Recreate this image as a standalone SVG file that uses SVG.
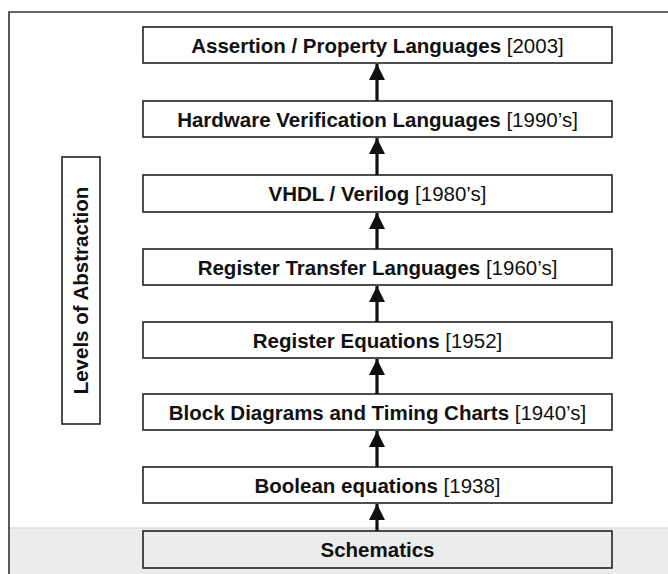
<svg xmlns="http://www.w3.org/2000/svg" width="668" height="574" viewBox="0 0 668 574">
<defs>
<style>
.box{fill:#fff;stroke:#222;stroke-width:1.6}
.gbox{fill:#ececec;stroke:#222;stroke-width:1.6}
.t{font-family:"Liberation Sans",Arial,sans-serif;font-size:20.5px;fill:#111;text-anchor:middle}
.b{font-weight:bold}
.c line{stroke:#111;stroke-width:3.2}
</style>
<marker id="ah" markerWidth="5" markerHeight="5" refX="5" refY="2.5" orient="auto" markerUnits="strokeWidth">
<path d="M0,0 L5,2.5 L0,5 Z" fill="#111"/>
</marker>
</defs>
<rect x="0" y="0" width="668" height="574" fill="#fff"/>
<rect x="9" y="528" width="659" height="46" fill="#ececec"/>
<line x1="9" y1="528" x2="668" y2="528" stroke="#d0d0d0" stroke-width="1"/>
<path d="M668,12 H9 V574" fill="none" stroke="#333" stroke-width="1.6"/>

<g id="levels">
<rect x="62" y="157" width="38" height="267" class="box"/>
<text class="t b" transform="translate(88,290.5) rotate(-90)">Levels of Abstraction</text>
</g>

<g id="assertion">
<rect x="143" y="27" width="469" height="36" class="box"/>
<text class="t" x="377.5" y="52.5"><tspan class="b">Assertion / Property Languages</tspan> [2003]</text>
</g>
<g id="hvl">
<rect x="143" y="101" width="469" height="36" class="box"/>
<text class="t" x="377.5" y="126.5"><tspan class="b">Hardware Verification Languages</tspan> [1990’s]</text>
</g>
<g id="vhdl">
<rect x="143" y="175" width="469" height="37" class="box"/>
<text class="t" x="377.5" y="200.5"><tspan class="b">VHDL / Verilog</tspan> [1980’s]</text>
</g>
<g id="rtl">
<rect x="143" y="249" width="469" height="36" class="box"/>
<text class="t" x="377.5" y="274.5"><tspan class="b">Register Transfer Languages</tspan> [1960’s]</text>
</g>
<g id="regeq">
<rect x="143" y="322" width="469" height="36" class="box"/>
<text class="t" x="377.5" y="347.5"><tspan class="b">Register Equations</tspan> [1952]</text>
</g>
<g id="block">
<rect x="143" y="394" width="469" height="36" class="box"/>
<text class="t" x="377.5" y="419.5"><tspan class="b">Block Diagrams and Timing Charts</tspan> [1940’s]</text>
</g>
<g id="boolean">
<rect x="143" y="467" width="469" height="36" class="box"/>
<text class="t" x="377.5" y="492.5"><tspan class="b">Boolean equations</tspan> [1938]</text>
</g>
<g id="schematics">
<rect x="143" y="531" width="469" height="37" class="gbox"/>
<text class="t b" x="377.5" y="556.5">Schematics</text>
</g>

<g id="connectors" class="c">
<line x1="377" y1="101" x2="377" y2="64" marker-end="url(#ah)"/>
<line x1="377" y1="175" x2="377" y2="138" marker-end="url(#ah)"/>
<line x1="377" y1="249" x2="377" y2="213" marker-end="url(#ah)"/>
<line x1="377" y1="322" x2="377" y2="286" marker-end="url(#ah)"/>
<line x1="377" y1="394" x2="377" y2="359" marker-end="url(#ah)"/>
<line x1="377" y1="467" x2="377" y2="431" marker-end="url(#ah)"/>
<line x1="377" y1="531" x2="377" y2="504" marker-end="url(#ah)"/>
</g>
</svg>
